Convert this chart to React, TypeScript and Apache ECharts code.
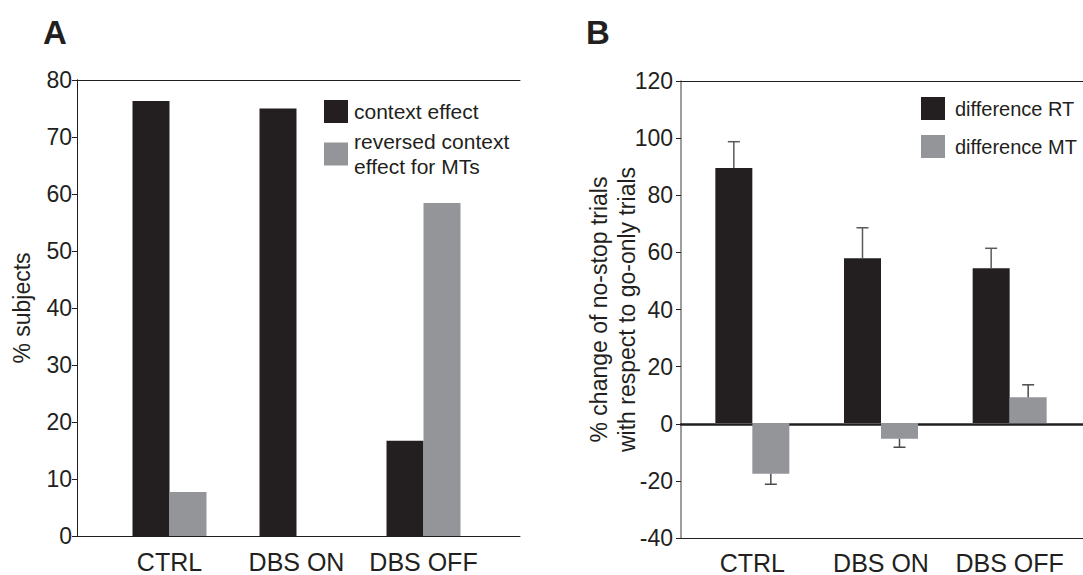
import React, { useEffect, useRef } from "react";
import * as echarts from "echarts";

// ---- data ----
const categories = ["CTRL", "DBS ON", "DBS OFF"];
// Panel A: % subjects
const contextEffect = [76.3, 75.0, 16.7];
const reversedContextMT = [7.7, 0, 58.4];
const yRangeA = { min: 0, max: 80, interval: 10 };
// Panel B: % change of no-stop trials with respect to go-only trials
const diffRT = [89.5, 57.8, 54.3];
const diffRTErr = [9.2, 10.7, 7.0];
const diffMT = [-17.8, -5.5, 9.0];
const diffMTErr = [3.7, 3.0, 4.4];
const yRangeB = { min: -40, max: 120, interval: 20 };

const FONT = "Liberation Sans, Arial, Helvetica, sans-serif";
const DARK = "#231f20";
const GRAY = "#939598";
const BAR_W = 37;

function errorSeries(name: string, values: number[], errs: number[], xAxisIndex: number, yAxisIndex: number, shift: number, color: string) {
  return {
    name,
    type: "custom",
    xAxisIndex,
    yAxisIndex,
    z: 5,
    encode: { x: 0, y: [1, 2] },
    data: values.map((v, i) => [i, v, v >= 0 ? v + errs[i] : v - errs[i]]),
    renderItem: (params: any, api: any) => {
      const base = api.coord([api.value(0), api.value(1)]);
      const end = api.coord([api.value(0), api.value(2)]);
      const x = base[0] + shift;
      return {
        type: "group",
        children: [
          { type: "line", shape: { x1: x, y1: base[1], x2: x, y2: end[1] }, style: { stroke: color, lineWidth: 1.5 } },
          { type: "line", shape: { x1: x - 6, y1: end[1], x2: x + 6, y2: end[1] }, style: { stroke: color, lineWidth: 1.5 } },
        ],
      };
    },
  };
}

const frameX = (gridIndex: number, position: string, onZero: boolean, width: number, color: string) => ({
  type: "value",
  gridIndex,
  position,
  min: 0,
  max: 1,
  axisLine: { show: true, onZero, lineStyle: { color, width } },
  axisTick: { show: false },
  axisLabel: { show: false },
  splitLine: { show: false },
});

const catAxis = (gridIndex: number) => ({
  type: "category",
  gridIndex,
  data: categories,
  axisLine: { show: false },
  axisTick: { show: false },
  axisLabel: { interval: 0, fontSize: 25, color: DARK, margin: 13, fontFamily: FONT },
});

export default function App() {
  const ref = useRef<HTMLDivElement>(null);
  useEffect(() => {
    const chart = echarts.init(ref.current!, null, { renderer: "svg" });
    const option: any = {
      animation: false,
      backgroundColor: "#ffffff",
      textStyle: { fontFamily: FONT },
      title: [
        { text: "A", left: 38, top: 11, textStyle: { fontSize: 33, fontWeight: "bold", color: DARK, fontFamily: FONT } },
        { text: "B", left: 581, top: 11, textStyle: { fontSize: 33, fontWeight: "bold", color: DARK, fontFamily: FONT } },
      ],
      legend: [
        {
          data: ["context effect"],
          left: 319, top: 95, itemWidth: 24, itemHeight: 23, icon: "rect",
          textStyle: { fontSize: 21, color: DARK, fontFamily: FONT, padding: [0, 0, 0, 1] },
        },
        {
          data: ["reversed context effect for MTs"],
          formatter: () => "reversed context\neffect for MTs",
          left: 319, top: 124, itemWidth: 24, itemHeight: 23, icon: "rect",
          textStyle: { fontSize: 21, lineHeight: 25, color: DARK, fontFamily: FONT, padding: [0, 0, 0, 1] },
        },
        {
          data: ["difference RT", "difference MT"],
          orient: "vertical",
          left: 916, top: 92, itemWidth: 24, itemHeight: 23, itemGap: 15, icon: "rect",
          textStyle: { fontSize: 20, color: DARK, fontFamily: FONT, padding: [0, 0, 0, 5] },
        },
      ],
      grid: [
        { left: 77, top: 80, width: 443, height: 456 },   // A frame
        { left: 106, top: 80, width: 381, height: 456 },  // A bars
        { left: 681, top: 81, width: 402, height: 457 },  // B frame
        { left: 688, top: 81, width: 386, height: 457 },  // B bars
      ],
      xAxis: [
        frameX(0, "bottom", false, 1, DARK),
        frameX(0, "top", false, 1, DARK),
        catAxis(1),
        frameX(2, "bottom", false, 1.2, DARK),
        frameX(2, "top", false, 1.2, DARK),
        frameX(2, "bottom", true, 2.5, DARK),
        catAxis(3),
      ],
      yAxis: [
        {
          type: "value", gridIndex: 0, position: "left", ...yRangeA,
          name: "% subjects", nameLocation: "middle", nameGap: 44,
          nameTextStyle: { fontSize: 23, color: DARK, fontFamily: FONT },
          axisLine: { show: true, lineStyle: { color: DARK, width: 1 } },
          axisTick: { show: true, inside: false, length: 5, lineStyle: { color: DARK } },
          axisLabel: { fontSize: 23, color: DARK, margin: 5, fontFamily: FONT },
          splitLine: { show: false },
        },
        {
          type: "value", gridIndex: 0, position: "right", ...yRangeA,
          axisLine: { show: true, lineStyle: { color: DARK, width: 1 } },
          axisTick: { show: false }, axisLabel: { show: false }, splitLine: { show: false },
        },
        { type: "value", gridIndex: 1, ...yRangeA, show: false, splitLine: { show: false } },
        {
          type: "value", gridIndex: 2, position: "left", ...yRangeB,
          name: "% change of no-stop trials\nwith respect to go-only trials",
          nameLocation: "middle", nameGap: 40, nameMoveOverlap: false,
          nameTextStyle: { fontSize: 23, lineHeight: 28, color: DARK, fontFamily: FONT },
          axisLine: { show: true, onZero: false, lineStyle: { color: "#7d7d7d", width: 1.5 } },
          axisTick: { show: true, inside: false, length: 5, lineStyle: { color: DARK } },
          axisLabel: { fontSize: 23, color: DARK, margin: 8, fontFamily: FONT },
          splitLine: { show: false },
        },
        { type: "value", gridIndex: 3, ...yRangeB, show: false, splitLine: { show: false } },
      ],
      series: [
        {
          name: "context effect", type: "bar", xAxisIndex: 2, yAxisIndex: 2,
          data: contextEffect, barWidth: BAR_W, barGap: "0%", itemStyle: { color: DARK },
        },
        {
          name: "reversed context effect for MTs", type: "bar", xAxisIndex: 2, yAxisIndex: 2,
          data: reversedContextMT, barWidth: BAR_W, barGap: "0%", itemStyle: { color: GRAY },
        },
        {
          name: "difference RT", type: "bar", xAxisIndex: 6, yAxisIndex: 4,
          data: diffRT, barWidth: BAR_W, barGap: "0%", itemStyle: { color: DARK },
        },
        {
          name: "difference MT", type: "bar", xAxisIndex: 6, yAxisIndex: 4,
          data: diffMT, barWidth: BAR_W, barGap: "0%", itemStyle: { color: GRAY },
        },
        errorSeries("RT error", diffRT, diffRTErr, 6, 4, -BAR_W / 2, "#5a5a5a"),
        errorSeries("MT error", diffMT, diffMTErr, 6, 4, BAR_W / 2, "#4a4a4a"),
      ],
    };
    chart.setOption(option);
    return () => chart.dispose();
  }, []);
  return <div ref={ref} style={{ position: "absolute", left: 0, top: 0, width: 1083, height: 575 }} />;
}
